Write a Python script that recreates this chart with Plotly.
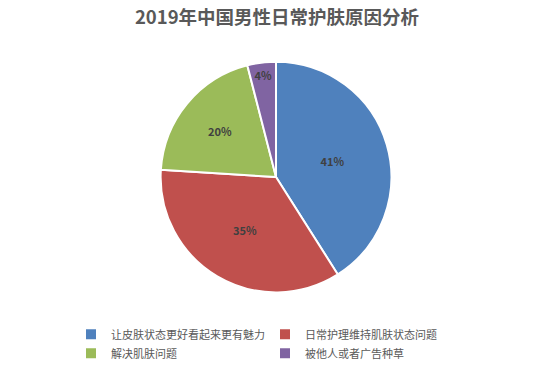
import plotly.graph_objects as go

labels = ["让皮肤状态更好看起来更有魅力", "日常护理维持肌肤状态问题", "解决肌肤问题", "被他人或者广告种草"]
values = [41, 35, 20, 4]
colors = ["#4F81BD", "#C0504D", "#9BBB59", "#8064A2"]

W, H = 554, 368
cx, cy, r = 276, 178, 116

fig = go.Figure(go.Pie(
    labels=labels, values=values, sort=False, direction="clockwise", rotation=0,
    marker=dict(colors=colors, line=dict(color="white", width=2)),
    textinfo="percent", texttemplate="%{percent:.0%}", textposition="inside",
    insidetextorientation="horizontal",
    textfont=dict(family="Noto Sans CJK SC", size=11, color="#404040", weight="bold"),
    domain=dict(x=[(cx - r) / W, (cx + r) / W], y=[1 - (cy + r) / H, 1 - (cy - r) / H]),
    hoverinfo="label+percent",
))

fig.update_layout(
    width=W, height=H,
    margin=dict(l=0, r=0, t=0, b=0),
    paper_bgcolor="white", plot_bgcolor="white",
    title=dict(text="<b>2019年中国男性日常护肤原因分析</b>", x=277 / W, xanchor="center",
               y=1 - 18 / H, yanchor="middle",
               font=dict(family="Noto Sans CJK SC", size=18.5, color="#595959")),
    legend=dict(orientation="h", x=71 / W, xanchor="left", y=1 - 321.5 / H, yanchor="top",
                entrywidth=149, entrywidthmode="pixels",
                font=dict(family="Noto Sans CJK SC", size=11, color="#595959"),
                itemwidth=30, traceorder="normal"),
    font=dict(family="Noto Sans CJK SC"),
)

fig.write_html("out.html", config={"displayModeBar": False},
               post_script="document.body.style.margin='0';")
